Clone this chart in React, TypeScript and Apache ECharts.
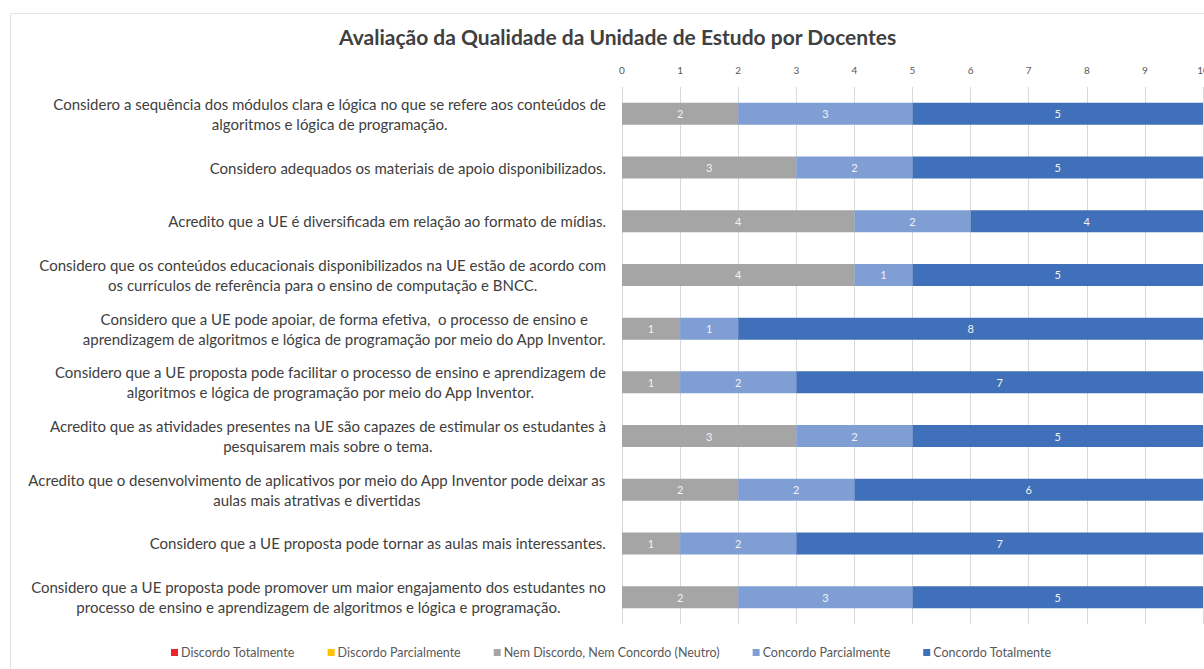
import React, { useEffect, useRef } from "react";
import * as echarts from "echarts";

const categories: string[] = [
  "Considero a sequência dos módulos clara e lógica no que se refere aos conteúdos de\nalgoritmos e lógica de programação.",
  "Considero adequados os materiais de apoio disponibilizados.",
  "Acredito que a UE é diversificada em relação ao formato de mídias.",
  "Considero que os conteúdos educacionais disponibilizados na UE estão de acordo com\nos currículos de referência para o ensino de computação e BNCC.",
  "Considero que a UE pode apoiar, de forma efetiva,  o processo de ensino e\naprendizagem de algoritmos e lógica de programação por meio do App Inventor.",
  "Considero que a UE proposta pode facilitar o processo de ensino e aprendizagem de\nalgoritmos e lógica de programação por meio do App Inventor.",
  "Acredito que as atividades presentes na UE são capazes de estimular os estudantes à\npesquisarem mais sobre o tema.",
  "Acredito que o desenvolvimento de aplicativos por meio do App Inventor pode deixar as\naulas mais atrativas e divertidas",
  "Considero que a UE proposta pode tornar as aulas mais interessantes.",
  "Considero que a UE proposta pode promover um maior engajamento dos estudantes no\nprocesso de ensino e aprendizagem de algoritmos e lógica e programação.",
];

const seriesNames: string[] = [
  "Discordo Totalmente",
  "Discordo Parcialmente",
  "Nem Discordo, Nem Concordo (Neutro)",
  "Concordo Parcialmente",
  "Concordo Totalmente",
];

const discordoTotalmente: number[] = [0, 0, 0, 0, 0, 0, 0, 0, 0, 0];
const discordoParcialmente: number[] = [0, 0, 0, 0, 0, 0, 0, 0, 0, 0];
const neutro: number[] = [2, 3, 4, 4, 1, 1, 3, 2, 1, 2];
const concordoParcialmente: number[] = [3, 2, 2, 1, 1, 2, 2, 2, 2, 3];
const concordoTotalmente: number[] = [5, 5, 4, 5, 8, 7, 5, 6, 7, 5];

const xTicks: number[] = [0, 1, 2, 3, 4, 5, 6, 7, 8, 9, 10];

const colors = ["#E8252A", "#FFC000", "#A5A5A5", "#7F9FD4", "#3F70B9"];

const FONT = "Lato, 'Open Sans', sans-serif";

export default function App() {
  const ref = useRef<HTMLDivElement>(null);

  useEffect(() => {
    document.body.style.margin = "0";
    if (!ref.current) return;
    const chart = echarts.init(ref.current, null, { renderer: "svg" });
    const values = [
      discordoTotalmente,
      discordoParcialmente,
      neutro,
      concordoParcialmente,
      concordoTotalmente,
    ];
    const option: any = {
      animation: false,
      backgroundColor: "#ffffff",
      textStyle: { fontFamily: FONT },
      title: {
        text: "Avaliação da Qualidade da Unidade de Estudo por Docentes",
        left: 334,
        top: 21,
        textStyle: {
          fontFamily: FONT,
          fontSize: 21,
          fontWeight: "bold",
          color: "#404040",
        },
      },
      graphic: [
        {
          type: "rect",
          shape: { x: 10.5, y: 13.5, width: 1300, height: 700 },
          style: { fill: "none", stroke: "#e4e4e4", lineWidth: 1 },
          silent: true,
          z: -1,
        },
      ],
      legend: {
        bottom: 5,
        left: 166,
        itemWidth: 7,
        itemHeight: 7,
        itemGap: 33,
        icon: "rect",
        data: seriesNames,
        textStyle: { fontFamily: FONT, fontSize: 12.5, color: "#595959", padding: [0, 0, 0, -2] },
      },
      grid: {
        left: 622,
        right: 1,
        top: 87,
        bottom: 45,
        containLabel: false,
        outerBoundsMode: "none",
      },
      xAxis: {
        type: "value",
        position: "top",
        min: xTicks[0],
        max: xTicks[xTicks.length - 1],
        interval: 1,
        axisLine: { show: false },
        axisTick: { show: false },
        axisLabel: {
          fontFamily: FONT,
          fontSize: 10,
          color: "#595959",
          margin: 12,
          hideOverlap: false,
        },
        splitLine: { show: true, lineStyle: { color: "#d9d9d9", width: 1 } },
      },
      yAxis: {
        type: "category",
        inverse: true,
        data: categories,
        axisLine: { show: false },
        axisTick: { show: false },
        axisLabel: {
          margin: 16,
          align: "right",
          formatter: (v: string) =>
            v
              .split("\n")
              .map((l) => "{c|" + l + "}")
              .join("\n"),
          rich: {
            c: {
              align: "center",
              fontFamily: FONT,
              fontSize: 15,
              color: "#404040",
              lineHeight: 20,
            },
          },
        },
      },
      series: seriesNames.map((name, i) => ({
        name,
        type: "bar",
        stack: "total",
        barWidth: 22,
        itemStyle: { color: colors[i] },
        label: {
          show: true,
          position: "inside",
          color: "#f2f2f2",
          fontFamily: FONT,
          fontSize: 11,
          formatter: (p: any) => (p.value ? String(p.value) : ""),
        },
        data: values[i],
      })),
    };
    chart.setOption(option);
    return () => chart.dispose();
  }, []);

  return <div ref={ref} style={{ width: 1204, height: 669 }} />;
}
